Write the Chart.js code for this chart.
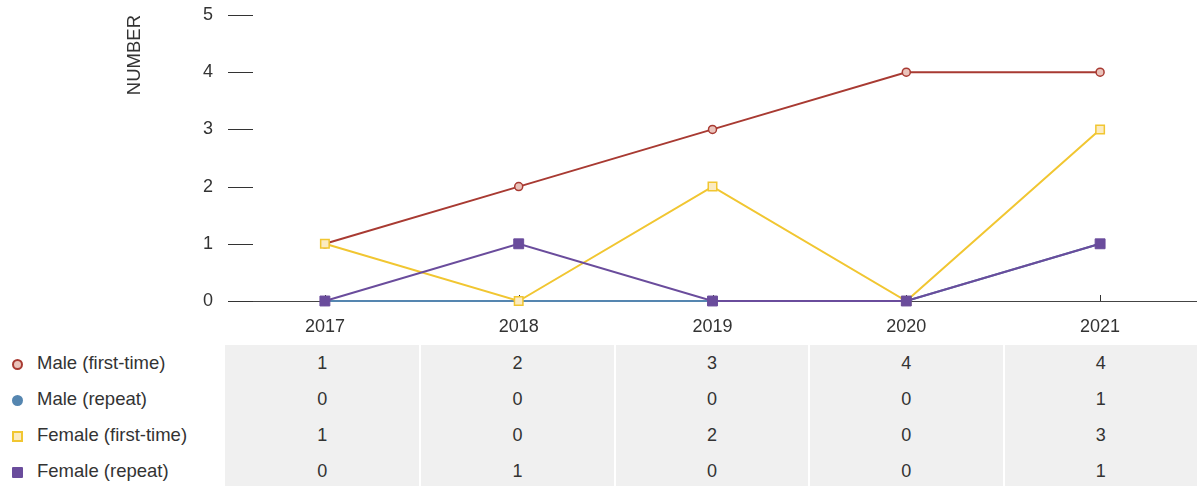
<!DOCTYPE html>
<html>
<head>
<meta charset="utf-8">
<script src="https://cdn.jsdelivr.net/npm/chart.js@4/dist/chart.umd.min.js"></script>
<style>
  html, body { margin: 0; padding: 0; background: #fff; }
  #wrap { position: relative; width: 1197px; height: 486px; overflow: hidden;
          font-family: 'Liberation Sans', Arial, sans-serif; color: #333; }
  #chartBox { position: absolute; left: 0; top: 0; width: 1197px; height: 345px; }
  #dataTable { position: absolute; left: 0; top: 345px; width: 1197px;
               border-collapse: separate; border-spacing: 0; table-layout: fixed; font-size: 18px; }
  #dataTable td { height: 36px; padding: 0; text-align: center; background: #f0f0f0;
                  border-left: 2px solid #fff; box-sizing: border-box; }
  #dataTable td.first { border-left: none; }
  #dataTable td.lbl { background: #fff; border-left: none; text-align: left; width: 225px;
                      font-size: 18.5px; white-space: nowrap; }
  .mk { display: inline-block; box-sizing: border-box; width: 11px; height: 11px;
        margin: 0 14px 0 12px; vertical-align: -1px; }
</style>
</head>
<body>
<div id="wrap">
  <div id="chartBox"><canvas id="lineChart"></canvas></div>
  <table id="dataTable"></table>
</div>
<script>
// ── Data ───────────────────────────────────────
const years = ['2017', '2018', '2019', '2020', '2021'];
const seriesNames = ['Male (first-time)', 'Male (repeat)', 'Female (first-time)', 'Female (repeat)'];
const maleFirst   = [1, 2, 3, 4, 4];
const maleRepeat  = [0, 0, 0, 0, 1];
const femaleFirst = [1, 0, 2, 0, 3];
const femaleRepeat = [0, 1, 0, 0, 1];
const yTicks = [0, 1, 2, 3, 4, 5];

const COLORS = {
  red:     '#a83a32',
  redFill: '#eac3bb',
  blue:    '#5586b0',
  yellow:  '#f1c631',
  yelFill: '#fbebc1',
  purple:  '#6a4c9c',
  text:    '#333',
};

const FONT = "'Liberation Sans', Arial, sans-serif";

// short tick marks on the y axis and small upward ticks on the x axis
const tickMarks = {
  id: 'tickMarks',
  beforeDatasetsDraw(chart) {
    const { ctx, chartArea, scales: { x, y } } = chart;
    ctx.save();
    ctx.strokeStyle = COLORS.text;
    ctx.lineWidth = 1;
    ctx.beginPath();
    yTicks.forEach(v => {
      const py = Math.round(y.getPixelForValue(v)) + 0.5;
      ctx.moveTo(chartArea.left, py);
      ctx.lineTo(chartArea.left + 25, py);
    });
    years.forEach((_, i) => {
      const px = Math.round(x.getPixelForValue(i)) + 0.5;
      ctx.moveTo(px, chartArea.bottom);
      ctx.lineTo(px, chartArea.bottom - 6);
    });
    ctx.stroke();
    ctx.restore();
  },
};

const datasets = [
  {
    label: seriesNames[0], data: maleFirst, order: 2,
    borderColor: COLORS.red, backgroundColor: COLORS.redFill,
    pointStyle: 'circle', pointRadius: 4, pointBorderWidth: 1.5,
    pointBackgroundColor: COLORS.redFill, pointBorderColor: COLORS.red,
  },
  {
    label: seriesNames[1], data: maleRepeat, order: 3,
    borderColor: COLORS.blue, backgroundColor: COLORS.blue,
    pointStyle: 'circle', pointRadius: 4, pointBorderWidth: 1,
    pointBackgroundColor: COLORS.blue, pointBorderColor: COLORS.blue,
  },
  {
    label: seriesNames[2], data: femaleFirst, order: 1,
    borderColor: COLORS.yellow, backgroundColor: COLORS.yelFill,
    pointStyle: 'rect', pointRadius: 6, pointBorderWidth: 1.5,
    pointBackgroundColor: COLORS.yelFill, pointBorderColor: COLORS.yellow,
  },
  {
    label: seriesNames[3], data: femaleRepeat, order: 0,
    borderColor: COLORS.purple, backgroundColor: COLORS.purple,
    pointStyle: 'rect', pointRadius: 7, pointBorderWidth: 1,
    pointBackgroundColor: COLORS.purple, pointBorderColor: COLORS.purple,
  },
].map(d => ({ ...d, borderWidth: 2, fill: false, tension: 0, clip: false }));

new Chart(document.getElementById('lineChart'), {
  type: 'line',
  data: { labels: years, datasets },
  options: {
    responsive: true,
    maintainAspectRatio: false,
    animation: false,
    layout: { autoPadding: false, padding: { top: 15, right: 0, bottom: 0, left: 0 } },
    plugins: { legend: { display: false }, tooltip: { enabled: false } },
    scales: {
      x: {
        offset: true,
        afterFit: (scale) => { scale.height = 44; scale.paddingLeft = 0; scale.paddingRight = 0; },
        grid: { display: false, drawTicks: false },
        border: { display: true, color: '#444', width: 1 },
        ticks: { color: COLORS.text, padding: 15, font: { size: 18, family: FONT } },
      },
      y: {
        min: 0, max: 5,
        afterFit: (scale) => { scale.width = 228; scale.paddingTop = 0; scale.paddingBottom = 0; },
        grid: { display: false, drawTicks: false },
        border: { display: false },
        ticks: { stepSize: 1, color: COLORS.text, padding: 15, font: { size: 18, family: FONT } },
        title: {
          display: true, text: 'NUMBER', align: 'end', color: COLORS.text,
          font: { size: 18.5, family: FONT }, padding: { top: 124, bottom: 0 },
        },
      },
    },
  },
  plugins: [tickMarks],
});

// ── Data table with legend column ──────────────
const markers = [
  `border:2px solid ${COLORS.red};background:${COLORS.redFill};border-radius:50%`,
  `background:${COLORS.blue};border-radius:50%`,
  `border:2px solid ${COLORS.yellow};background:${COLORS.yelFill}`,
  `background:${COLORS.purple};border-radius:1px`,
];
const rows = [maleFirst, maleRepeat, femaleFirst, femaleRepeat];
document.getElementById('dataTable').innerHTML = rows.map((vals, i) => `
  <tr>
    <td class="lbl"><span class="mk" style="${markers[i]}"></span>${seriesNames[i]}</td>
    ${vals.map((v, j) => `<td class="${j === 0 ? 'first' : ''}">${v}</td>`).join('')}
  </tr>`).join('');
</script>
</body>
</html>
